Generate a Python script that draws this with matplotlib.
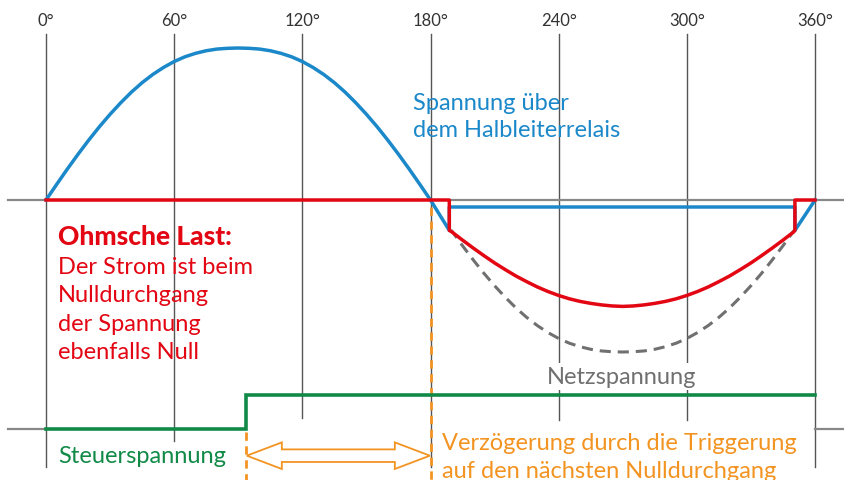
import matplotlib
matplotlib.use("Agg")
import matplotlib.pyplot as plt
from matplotlib.patches import Polygon

plt.rcParams['font.family'] = ['Lato', 'DejaVu Sans']
plt.rcParams['lines.scale_dashes'] = False

# ---------------- data (angles in degrees, levels normalised to mains peak) -------------
grid_angles = [0, 60, 120, 180, 240, 300, 360]
tick_labels = ["0°", "60°", "120°", "180°", "240°", "300°", "360°"]

# mains voltage, positive half wave read every 5 degrees (0..180)
half_angles = [0, 5, 10, 15, 20, 25, 30, 35, 40, 45, 50, 55, 60, 65, 70, 75, 80, 85, 90,
               95, 100, 105, 110, 115, 120, 125, 130, 135, 140, 145, 150, 155, 160, 165, 170, 175, 180]
pos_half_values = [0.0, 0.103, 0.204, 0.301, 0.394, 0.482, 0.564, 0.640, 0.710, 0.772, 0.826, 0.872,
                   0.911, 0.942, 0.965, 0.982, 0.993, 0.998, 1.0,
                   0.998, 0.993, 0.982, 0.965, 0.942, 0.911, 0.872, 0.826, 0.772, 0.710, 0.640,
                   0.564, 0.482, 0.394, 0.301, 0.204, 0.103, 0.0]
# negative half wave of the mains (180..360), same angle grid shifted by 180
neg_half_values = [0.0, -0.103, -0.204, -0.301, -0.394, -0.482, -0.564, -0.640, -0.710, -0.772, -0.826,
                   -0.872, -0.911, -0.942, -0.965, -0.982, -0.993, -0.998, -1.0,
                   -0.998, -0.993, -0.982, -0.965, -0.942, -0.911, -0.872, -0.826, -0.772, -0.710,
                   -0.640, -0.564, -0.482, -0.394, -0.301, -0.204, -0.103, 0.0]

# switching angles of the relay in the negative half wave
turn_on_angle = 188.8
turn_off_angle = 350.6
on_level = -0.20          # level at which the relay switches
relay_on_drop = -0.046    # voltage across the relay while conducting

# current through the ohmic load (negative half wave)
current_angles = [190, 195, 200, 205, 210, 215, 220, 225, 230, 235, 240, 245, 250, 255, 260, 265, 270,
                  275, 280, 285, 290, 295, 300, 305, 310, 315, 320, 325, 330, 335, 340, 345, 350]
current_values = [-0.21, -0.264, -0.316, -0.366, -0.414, -0.458, -0.500, -0.537, -0.572, -0.602, -0.628,
                  -0.650, -0.667, -0.680, -0.690, -0.697, -0.700,
                  -0.697, -0.690, -0.680, -0.667, -0.650, -0.628, -0.602, -0.572, -0.537, -0.500,
                  -0.458, -0.414, -0.366, -0.316, -0.264, -0.21]

# control voltage
control_step_angle = 93.6
control_angles = [0, control_step_angle, control_step_angle, 360]
control_values = [0, 0, 1, 1]

# ---------------- colours / layout -------------
BLUE = '#1B88C9'
RED = '#E30613'
GREEN = '#108A46'
ORANGE = '#F39422'
DGRAY = '#707070'
GRID = '#555555'
BASE = '#888888'

CTRL_BASE = -1.507
CTRL_HEIGHT = 0.224

fig = plt.figure(figsize=(8.45, 4.81), dpi=100)
ax = fig.add_axes([0, 0, 1, 1])
ax.set_xlim(-21.535, 374.04)
ax.set_ylim(-1.842, 1.3224)
ax.axis('off')

# vertical guide lines and their labels
grid_bottoms = [-1.757, -1.586, -1.434, -1.757, -1.447, -1.447, -1.757]
for a, lab, yb in zip(grid_angles, tick_labels, grid_bottoms):
    ax.plot([a, a], [1.092, yb], color=GRID, lw=1.0, zorder=1)
    ax.text(a, 1.184, lab, ha='center', va='center', fontsize=12, color='#333333')

# baselines
ax.plot([-17.8, 374.04], [0, 0], color=BASE, lw=1.6, zorder=1)
ax.plot([-17.8, 0], [CTRL_BASE, CTRL_BASE], color=BASE, lw=1.6, zorder=1)
ax.plot([360, 374.04], [CTRL_BASE, CTRL_BASE], color=BASE, lw=1.6, zorder=1)

# mains voltage dashed (negative half while relay conducts)
neg_angles = [a + 180 for a in half_angles]
inner = [(a, v) for a, v in zip(neg_angles, neg_half_values) if turn_on_angle < a < turn_off_angle]
neg_a = [turn_on_angle] + [a for a, _ in inner] + [turn_off_angle]
neg_v = [on_level] + [v for _, v in inner] + [on_level]
ax.plot(neg_a, neg_v, color=DGRAY, lw=2.2, dashes=(8, 5), zorder=3)

# voltage across the relay
relay_a = half_angles + [turn_on_angle, turn_on_angle, turn_off_angle, turn_off_angle, 360]
relay_v = pos_half_values + [on_level, relay_on_drop, relay_on_drop, on_level, 0]
ax.plot(relay_a, relay_v, color=BLUE, lw=2.5, zorder=4, solid_joinstyle='round')

# load current
cur_a = [0, turn_on_angle, turn_on_angle] + current_angles + [turn_off_angle, turn_off_angle, 360]
cur_v = [0, 0, on_level] + current_values + [on_level, 0, 0]
ax.plot(cur_a, cur_v, color=RED, lw=2.5, zorder=5, solid_joinstyle='round')

# control voltage
ax.plot(control_angles, [CTRL_BASE + CTRL_HEIGHT * v for v in control_values],
        color=GREEN, lw=2.6, zorder=4, solid_joinstyle='miter')

# delay markers
ax.plot([180, 180], [relay_on_drop, -1.842], color=ORANGE, lw=2.0, dashes=(6, 4), zorder=3)
ax.plot([control_step_angle, control_step_angle], [-1.526, -1.842], color=ORANGE, lw=2.0,
        dashes=(6, 4), zorder=3)

yc, hh, sh, hl = -1.682, 0.0875, 0.0414, 16.4
x0, x1 = control_step_angle + 0.4, 180 - 0.3
arrow = [(x0, yc), (x0 + hl, yc + hh), (x0 + hl, yc + sh), (x1 - hl, yc + sh), (x1 - hl, yc + hh),
         (x1, yc), (x1 - hl, yc - hh), (x1 - hl, yc - sh), (x0 + hl, yc - sh), (x0 + hl, yc - hh)]
ax.add_patch(Polygon(arrow, closed=True, facecolor='white', edgecolor=ORANGE, lw=1.3, zorder=4))

# texts
FS = 17
ax.text(171.8, 0.599, "Spannung über", color=BLUE, fontsize=FS, va='baseline', ha='left')
ax.text(171.8, 0.421, "dem Halbleiterrelais", color=BLUE, fontsize=FS, va='baseline', ha='left')

ax.text(5.62, -0.289, "Ohmsche Last:", color=RED, fontsize=19, fontweight='black', va='baseline')
for txt, yb in zip(["Der Strom ist beim", "Nulldurchgang", "der Spannung", "ebenfalls Null"],
                   [-0.477, -0.664, -0.852, -1.039]):
    ax.text(5.62, yb, txt, color=RED, fontsize=FS, va='baseline')

ax.text(234.5, -1.204, "Netzspannung", color=DGRAY, fontsize=FS, va='baseline', zorder=2,
        bbox=dict(facecolor='white', edgecolor='none', pad=2))
ax.text(5.62, -1.724, "Steuerspannung", color=GREEN, fontsize=FS, va='baseline')
ax.text(185.4, -1.638, "Verzögerung durch die Triggerung", color=ORANGE, fontsize=FS, va='baseline')
ax.text(185.4, -1.822, "auf den nächsten Nulldurchgang", color=ORANGE, fontsize=FS, va='baseline')

fig.savefig("out.png", dpi=100)
